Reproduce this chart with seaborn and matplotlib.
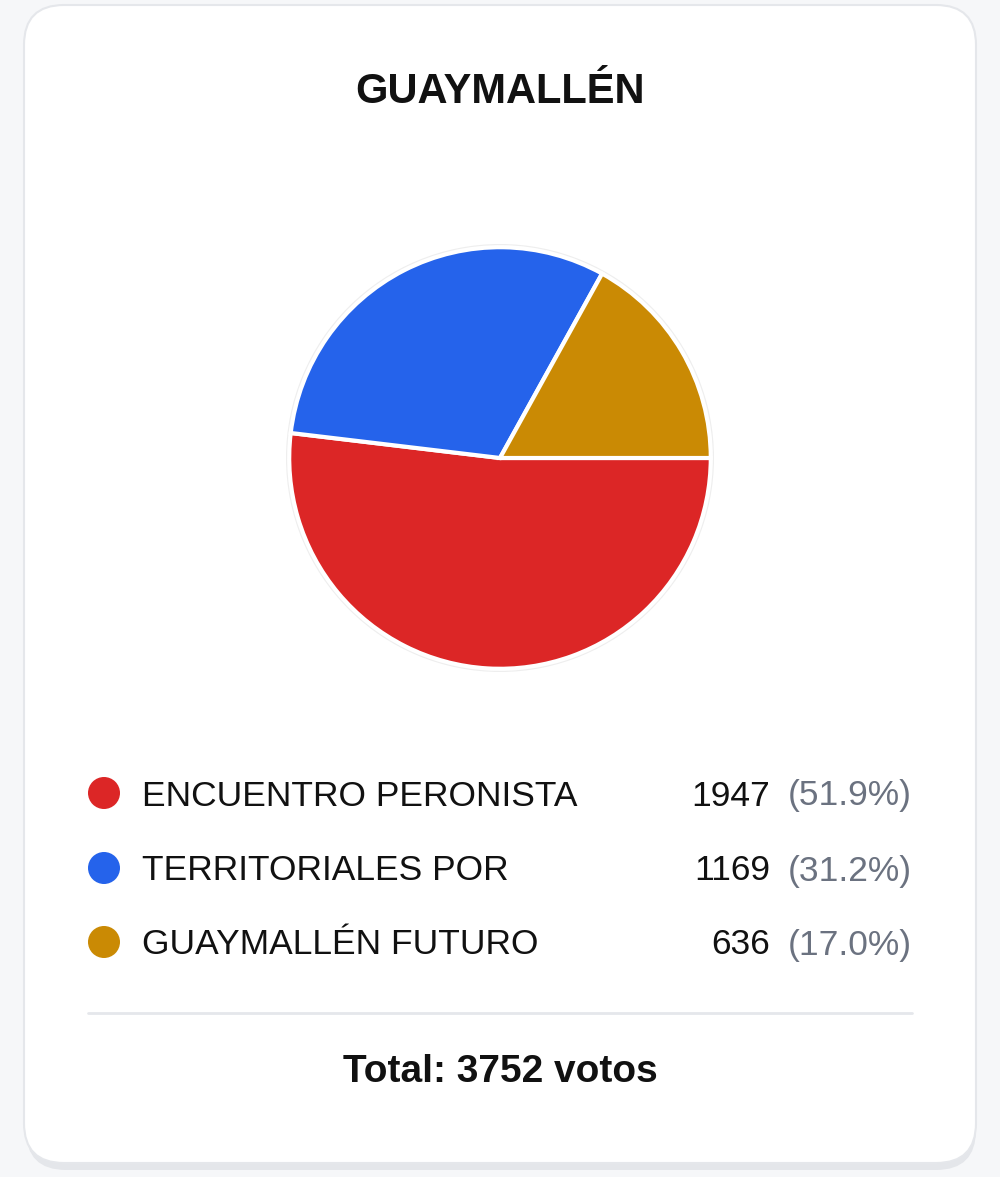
import matplotlib.pyplot as plt
import seaborn as sns
from matplotlib.patches import FancyBboxPatch, Circle

# data
title = "GUAYMALLÉN"
parties = ["ENCUENTRO PERONISTA", "TERRITORIALES POR", "GUAYMALLÉN FUTURO"]
votes = [1947, 1169, 636]
colors = ["#dc2626", "#2563eb", "#ca8a04"]

total = sum(votes)
pcts = [v / total * 100 for v in votes]

sns.set_theme(style="white")
plt.rcParams['font.family'] = ['Liberation Sans', 'DejaVu Sans']

fig = plt.figure(figsize=(10, 11.77), dpi=100)
fig.patch.set_facecolor("#f6f7f9")

# background axes in pixel coordinates
bg = fig.add_axes([0, 0, 1, 1])
bg.set_xlim(0, 1000)
bg.set_ylim(1177, 0)
bg.axis("off")

# card shadow + card
bg.add_patch(FancyBboxPatch((26, 10), 950, 1160, boxstyle="round,pad=0,rounding_size=40",
                            facecolor="#e4e6ea", edgecolor="none", zorder=1))
bg.add_patch(FancyBboxPatch((24, 5), 952, 1158, boxstyle="round,pad=0,rounding_size=40",
                            facecolor="white", edgecolor="#e5e7eb", linewidth=1.5, zorder=2))

bg.text(500, 92, title, ha="center", va="center", fontsize=30, fontweight="bold",
        color="#111111", zorder=3)

# legend rows
row_y = [793, 868, 942]
for y, name, v, p, c in zip(row_y, parties, votes, pcts, colors):
    bg.add_patch(Circle((104, y), 16, facecolor=c, edgecolor="none", zorder=3))
    ty = y + 3
    bg.text(142, ty, name, ha="left", va="center", fontsize=25.5, color="#111111", zorder=3)
    bg.text(770, ty, f"{v}", ha="right", va="center", fontsize=25.5,
            color="#111111", zorder=3)
    bg.text(912, ty, f"({p:.1f}%)", ha="right", va="center", fontsize=25.5,
            color="#6b7280", zorder=3)

bg.plot([88, 912], [1013, 1013], color="#e5e7eb", linewidth=2, zorder=3)
bg.text(500, 1072, f"Total: {total} votos", ha="center", va="center", fontsize=28,
        fontweight="bold", color="#111111", zorder=3)

# pie
r = 214
cx, cy = 500, 458
ax = fig.add_axes([(cx - r) / 1000, 1 - (cy + r) / 1177, 2 * r / 1000, 2 * r / 1177])
ax.set_xlim(-1, 1)
ax.set_ylim(-1, 1)
ax.set_aspect("equal")
ax.axis("off")
ax.add_patch(Circle((0, 0), 1.0, facecolor="#eeeeee", edgecolor="none", zorder=0))
ax.pie(votes, colors=colors, startangle=0, counterclock=False, radius=0.985,
       wedgeprops=dict(edgecolor="white", linewidth=3))
ax.set_xlim(-1, 1)
ax.set_ylim(-1, 1)

fig.savefig("out.png", dpi=100, facecolor=fig.get_facecolor())
